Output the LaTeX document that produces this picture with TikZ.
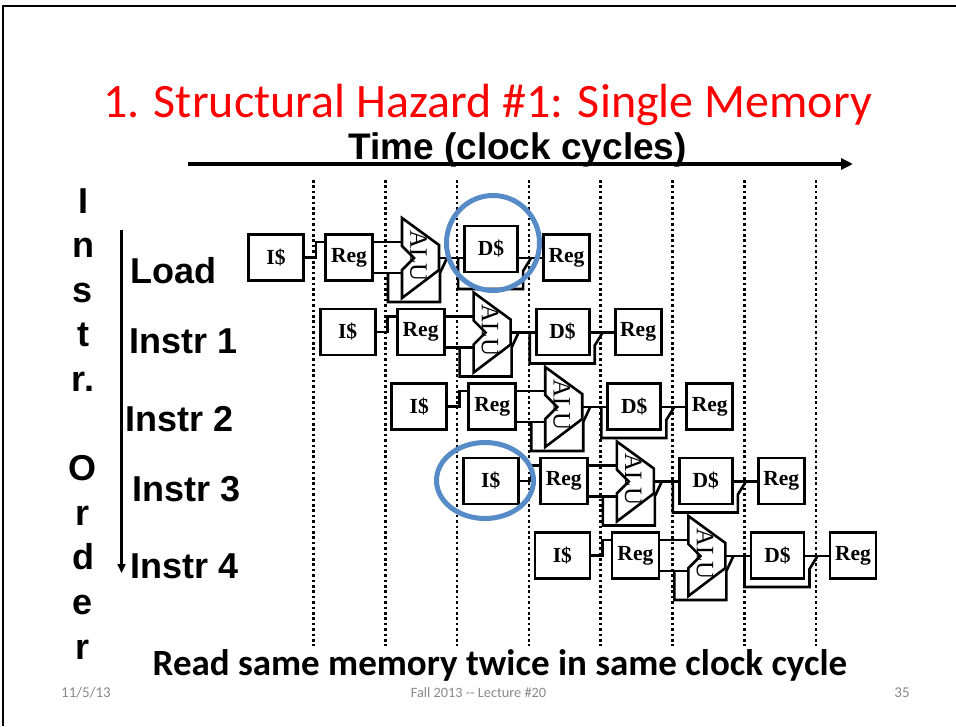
\documentclass[tikz,border=0pt]{standalone}
\usepackage{fontspec}
\setmainfont{Liberation Serif}
\newfontfamily\arialfont{Liberation Sans}
\newfontfamily\califont{Carlito}
\usetikzlibrary{arrows.meta}
\definecolor{hazardred}{RGB}{255,0,0}
\definecolor{ringblue}{RGB}{86,139,200}
\definecolor{footgray}{RGB}{137,137,137}
\begin{document}
\begin{tikzpicture}[x=1pt,y=-1pt,
  stagebox/.style={draw, line width=2.8pt, inner sep=0pt,
    font=\bfseries\fontsize{21.5}{25}\selectfont, minimum height=46pt},
  wire/.style={line width=2.6pt},
  alubody/.style={line width=2.6pt, line join=miter},
  sidelabel/.style={font=\arialfont\bfseries\fontsize{36}{40}\selectfont, inner sep=0pt},
  cyclemark/.style={line width=2.6pt, dash pattern=on 2.6pt off 2.8pt},
  ring/.style={draw=ringblue, line width=5pt}]

\useasboundingbox (0,0) rectangle (956,726);

% slide frame
\draw[line width=2pt] (3,726) -- (3,6) -- (956,6);

% heading and time axis
\node[font=\califont\fontsize{48}{58}\selectfont, text=hazardred, anchor=base, inner sep=0pt]
  (title) at (487.5,117) {1. Structural Hazard \#1: Single Memory};
\node[font=\arialfont\bfseries\fontsize{37}{44}\selectfont, anchor=base, inner sep=0pt]
  (time) at (517.5,159) {Time (clock cycles)};
\coordinate (t0) at (188,164);
\coordinate (t1) at (853,164);
\draw[line width=3.2pt, -{Triangle[length=12pt,width=11pt]}] (t0) -- (t1);

% clock cycle boundaries
\foreach \k in {0,...,7}
  \draw[cyclemark] (313.5+71.8*\k,180) -- (313.5+71.8*\k,646);

% pipeline rows
\foreach \r in {0,...,4}{
  \pgfmathsetmacro\dmy{257.5-8.5*(\r==0)}
  \begin{scope}[shift={(71.6*\r,74.5*\r)}]
    \node[stagebox, minimum width=55pt] (im\r) at (276,257.5) {I\$};
    \node[stagebox, minimum width=47pt] (rf\r) at (349,257.5) {Reg};
    \node[stagebox, minimum width=53pt] (dm\r) at (491,\dmy) {D\$};
    \node[stagebox, minimum width=46pt] (wb\r) at (566.5,257.5) {Reg};
    \draw[alubody] (402,218) -- (439,245) -- (439,270) -- (402,298)
      -- (402,270) -- (414,258) -- (402,246) -- cycle;
    \node[rotate=-90, font=\fontsize{25}{27}\selectfont, inner sep=0pt] (alu\r) at (418.5,256) {ALU};
    \coordinate (fk\r) at (316,242);
    \coordinate (ai\r) at (402,242);
    \coordinate (bi\r) at (402,273);
    \coordinate (ao\r) at (439,258);
    % fetch -> decode
    \draw[wire] (im\r.east) -| (fk\r) -- (fk\r -| rf\r.west);
    % decode -> ALU inputs
    \draw[wire] (fk\r -| rf\r.east) -- (ai\r);
    \draw[wire] (bi\r -| rf\r.east) -- (bi\r);
    % path round the ALU
    \draw[wire] (bi\r) ++(-14,0) -- ++(0,29) -- ++(52,0) -- ++(0,-29) -- ++(7,-15);
    % ALU -> data memory
    \draw[wire] (ao\r) -- (ao\r -| dm\r.west);
    % path round the data memory
    \draw[wire] (ao\r -| dm\r.west) ++(-5,0) -- ++(0,31) -- ++(65,0) -- ++(0,-18) -- ++(8,-13);
    % data memory -> write back
    \draw[wire] (ao\r -| dm\r.east) -- (ao\r -| wb\r.west);
  \end{scope}
}

% memory accesses in the same cycle
\draw[ring] (493,243) ellipse [x radius=46.5, y radius=47.5];
\draw[ring] (485,480.5) ellipse [x radius=48.5, y radius=38];

% instruction order
\foreach \c/\y [count=\n] in {I/213, n/257.6, s/302.2, t/346.8, r./391.4,
    O/480.6, r/525.2, d/569.8, e/614.4, r/659}
  \node[sidelabel, anchor=base] (ord\n) at (83,\y) {\c};
\coordinate (oa) at (121.5,230);
\coordinate (ob) at (121.5,573);
\draw[line width=3pt, -{Triangle[length=9pt,width=8pt]}] (oa) -- (ob);
\foreach \t/\x/\y [count=\n] in {Load/130/283.5, Instr 1/129/353, Instr 2/125.5/431.5,
    Instr 3/132.5/501.5, Instr 4/130.5/578}
  \node[sidelabel, anchor=base west] (lab\n) at (\x,\y) {\t};

% note and footer
\node[font=\califont\bfseries\fontsize{37}{44}\selectfont, anchor=base, inner sep=0pt]
  (note) at (500,675) {Read same memory twice in same clock cycle};
\node[font=\califont\fontsize{15}{18}\selectfont, text=footgray, anchor=base, inner sep=0pt]
  (date) at (86,697.5) {11/5/13};
\node[font=\califont\fontsize{14.3}{17}\selectfont, text=footgray, anchor=base, inner sep=0pt]
  (course) at (478.5,697.5) {Fall 2013 -{}- Lecture \#20};
\node[font=\califont\fontsize{15}{18}\selectfont, text=footgray, anchor=base, inner sep=0pt]
  (page) at (902,697.5) {35};
\end{tikzpicture}
\end{document}
